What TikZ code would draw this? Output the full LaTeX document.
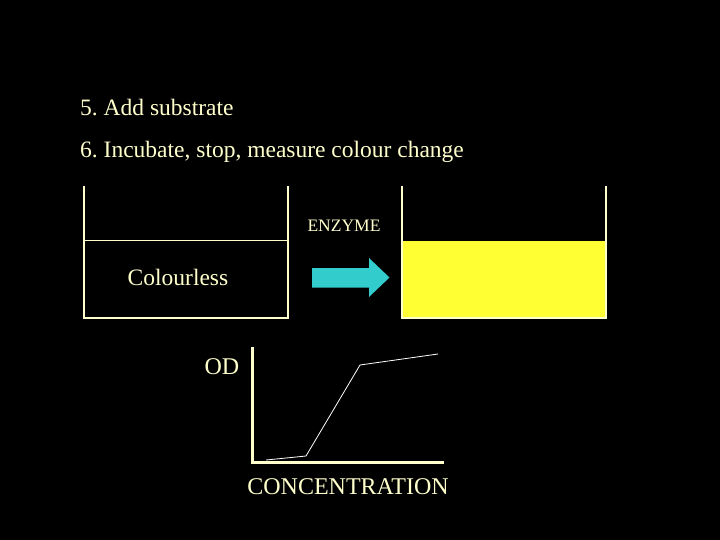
\documentclass[tikz,border=0pt]{standalone}
\usepackage{fontspec}
\setmainfont{Liberation Serif}
\definecolor{txt}{HTML}{FFFFCC}
\definecolor{liq}{HTML}{FFFF33}
\definecolor{arr}{HTML}{33CCCC}
\begin{document}
\frenchspacing
\begin{tikzpicture}[x=1pt,y=-1pt,
  lbl/.style={text=txt,inner sep=0pt,font=\fontsize{23.5}{26}\selectfont},
  glbl/.style={text=txt,inner sep=0pt,font=\fontsize{24}{27}\selectfont},
  small/.style={text=txt,inner sep=0pt,font=\fontsize{17.5}{20}\selectfont},
  wall/.style={draw=txt,line width=1.2pt},
  axis/.style={draw=txt,line width=3pt},
  curve/.style={draw=white,line width=0.8pt}]
\fill[black] (0,0) rectangle (720,540);
\useasboundingbox (0,0) rectangle (720,540);
% texts
\node[lbl,anchor=base west] (t5) at (80,116) {5. Add substrate};
\node[lbl,anchor=base west] (t6) at (80,158) {6. Incubate, stop, measure colour change};
% left beaker
\coordinate (la) at (84,186);
\coordinate (lb) at (288,186);
\draw[wall] (la) -- (84,318) -- (288,318) -- (lb);
\draw[wall] (84,240.5) -- (288,240.5);
\node[lbl] (cl) at (178,277) {Colourless};
% right beaker
\fill[liq] (402,240.5) rectangle (606,318);
\draw[wall] (402,186) -- (402,318) -- (606,318) -- (606,186);
% enzyme + arrow
\node[small] (enz) at (344,226) {ENZYME};
\fill[arr] (312,268) -- (369,268) -- (369,258) -- (389.5,277.5) -- (369,297) -- (369,287.5) -- (312,287.5) -- cycle;
% graph
\coordinate (o) at (252,462);
\draw[axis] (252,347) -- (o) -- (444,462);
\draw[curve] (266,460) -- (306,456) -- (360,365) -- (438,354);
\node[glbl] (od) at (222,367) {OD};
\node[glbl] (conc) at (348,487) {CONCENTRATION};
\end{tikzpicture}
\end{document}
